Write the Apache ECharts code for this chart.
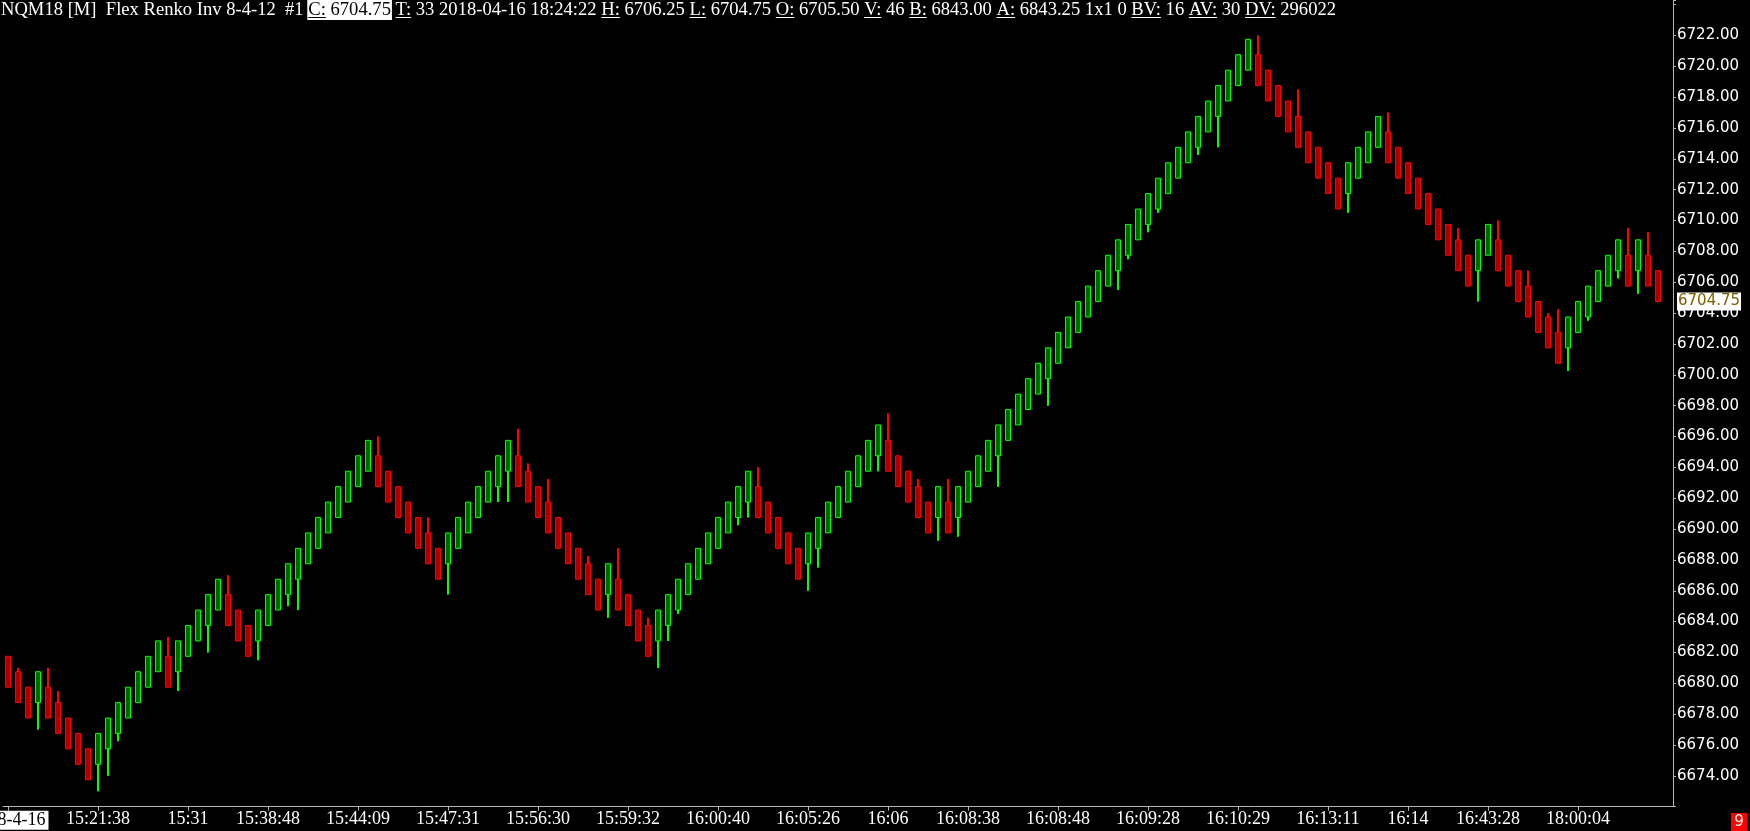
<!DOCTYPE html>
<html><head><meta charset="utf-8">
<script src="https://cdn.jsdelivr.net/npm/echarts@6/dist/echarts.min.js"></script>
<style>html,body{margin:0;padding:0;background:#000;}#c{width:1750px;height:831px;}</style>
</head><body><div id="c"></div>
<script>
// ---- data (Renko bricks) ----
const openP = [
6681.75,6680.75,6679.75,6678.75,6679.75,6678.75,6677.75,6676.75,6675.75,6674.75,
6675.75,6676.75,6677.75,6678.75,6679.75,6680.75,6681.75,6680.75,6681.75,6682.75,
6683.75,6684.75,6685.75,6684.75,6683.75,6682.75,6683.75,6684.75,6685.75,6686.75,
6687.75,6688.75,6689.75,6690.75,6691.75,6692.75,6693.75,6694.75,6693.75,6692.75,
6691.75,6690.75,6689.75,6688.75,6687.75,6688.75,6689.75,6690.75,6691.75,6692.75,
6693.75,6694.75,6693.75,6692.75,6691.75,6690.75,6689.75,6688.75,6687.75,6686.75,
6685.75,6686.75,6685.75,6684.75,6683.75,6682.75,6683.75,6684.75,6685.75,6686.75,
6687.75,6688.75,6689.75,6690.75,6691.75,6692.75,6691.75,6690.75,6689.75,6688.75,
6687.75,6688.75,6689.75,6690.75,6691.75,6692.75,6693.75,6694.75,6695.75,6694.75,
6693.75,6692.75,6691.75,6690.75,6691.75,6690.75,6691.75,6692.75,6693.75,6694.75,
6695.75,6696.75,6697.75,6698.75,6699.75,6700.75,6701.75,6702.75,6703.75,6704.75,
6705.75,6706.75,6707.75,6708.75,6709.75,6710.75,6711.75,6712.75,6713.75,6714.75,
6715.75,6716.75,6717.75,6718.75,6719.75,6720.75,6719.75,6718.75,6717.75,6716.75,
6715.75,6714.75,6713.75,6712.75,6711.75,6712.75,6713.75,6714.75,6715.75,6714.75,
6713.75,6712.75,6711.75,6710.75,6709.75,6708.75,6707.75,6706.75,6707.75,6708.75,
6707.75,6706.75,6705.75,6704.75,6703.75,6702.75,6701.75,6702.75,6703.75,6704.75,
6705.75,6706.75,6707.75,6706.75,6707.75,6706.75
];
const closeP = [
6679.75,6678.75,6677.75,6680.75,6677.75,6676.75,6675.75,6674.75,6673.75,6676.75,
6677.75,6678.75,6679.75,6680.75,6681.75,6682.75,6679.75,6682.75,6683.75,6684.75,
6685.75,6686.75,6683.75,6682.75,6681.75,6684.75,6685.75,6686.75,6687.75,6688.75,
6689.75,6690.75,6691.75,6692.75,6693.75,6694.75,6695.75,6692.75,6691.75,6690.75,
6689.75,6688.75,6687.75,6686.75,6689.75,6690.75,6691.75,6692.75,6693.75,6694.75,
6695.75,6692.75,6691.75,6690.75,6689.75,6688.75,6687.75,6686.75,6685.75,6684.75,
6687.75,6684.75,6683.75,6682.75,6681.75,6684.75,6685.75,6686.75,6687.75,6688.75,
6689.75,6690.75,6691.75,6692.75,6693.75,6690.75,6689.75,6688.75,6687.75,6686.75,
6689.75,6690.75,6691.75,6692.75,6693.75,6694.75,6695.75,6696.75,6693.75,6692.75,
6691.75,6690.75,6689.75,6692.75,6689.75,6692.75,6693.75,6694.75,6695.75,6696.75,
6697.75,6698.75,6699.75,6700.75,6701.75,6702.75,6703.75,6704.75,6705.75,6706.75,
6707.75,6708.75,6709.75,6710.75,6711.75,6712.75,6713.75,6714.75,6715.75,6716.75,
6717.75,6718.75,6719.75,6720.75,6721.75,6718.75,6717.75,6716.75,6715.75,6714.75,
6713.75,6712.75,6711.75,6710.75,6713.75,6714.75,6715.75,6716.75,6713.75,6712.75,
6711.75,6710.75,6709.75,6708.75,6707.75,6706.75,6705.75,6708.75,6709.75,6706.75,
6705.75,6704.75,6703.75,6702.75,6701.75,6700.75,6703.75,6704.75,6705.75,6706.75,
6707.75,6708.75,6705.75,6708.75,6705.75,6704.75
];
// wicks beyond the brick body: [bar index, price]
const upperWicks = [[1,6681],[4,6681],[5,6679.5],[16,6683],[22,6687],[37,6696],[42,6690.75],[51,6696.5],[52,6694.25],[54,6693.25],[58,6688.25],[61,6688.75],[64,6684.25],[75,6694],[88,6697.5],[91,6693.25],[94,6693.25],[125,6722],[129,6718.5],[138,6717],[145,6709.5],[149,6710],[152,6706.75],[154,6704],[155,6704.25],[162,6709.5],[164,6709.25]];
const lowerWicks = [[3,6677],[9,6673],[10,6674],[11,6676.25],[17,6679.5],[20,6682],[25,6681.5],[28,6685],[29,6684.75],[44,6685.75],[49,6691.75],[50,6691.75],[60,6684.25],[65,6681],[66,6682.75],[67,6684.5],[73,6690.25],[74,6690.75],[80,6686],[81,6687.5],[87,6693.75],[93,6689.25],[95,6689.5],[99,6692.75],[104,6698],[111,6705.5],[112,6707.5],[114,6709.25],[115,6710.5],[119,6714.25],[121,6714.75],[134,6710.5],[147,6704.75],[156,6700.25],[158,6703.5],[161,6706.25],[163,6705.25]];
const xLabelIndex = [0,9,18,26,35,44,53,62,71,80,88,96,105,114,123,132,140,148,157];
const xLabelText = ['2018-4-16','15:21:38','15:31','15:38:48','15:44:09','15:47:31','15:56:30','15:59:32','16:00:40','16:05:26','16:06','16:08:38','16:08:48','16:09:28','16:10:29','16:13:11','16:14','16:43:28','18:00:04'];
const yMin = 6672, yMax = 6724.3, yStep = 2, yLabelLo = 6674, yLabelHi = 6722;
const headerPrefix = 'NQM18 [M]  Flex Renko Inv 8-4-12  #1 ';
const headerKeys = ['C:','T:','H:','L:','O:','V:','B:','A:','BV:','AV:','DV:'];
const headerVals = [' 6704.75',' 33 2018-04-16 18:24:22',' 6706.25',' 6704.75',' 6705.50',' 46',' 6843.00',' 6843.25 1x1 0',' 16',' 30',' 296022'];
const barCountText = '9';

// ---- build ----
const n = openP.length;
const highP = openP.map((o,i)=>Math.max(o, closeP[i]));
const lowP = openP.map((o,i)=>Math.min(o, closeP[i]));
upperWicks.forEach(([i,v])=>{highP[i]=v;});
lowerWicks.forEach(([i,v])=>{lowP[i]=v;});
const candles = openP.map((o,i)=>[o, closeP[i], lowP[i], highP[i]]);
const wickData = candles.map((d,i)=>[i, d[0], d[1], d[2], d[3]]);
const categories = [];
for (let i=0;i<=n;i++) categories.push(String(i));
const labelMap = {};
xLabelIndex.forEach((k,j)=>{labelMap[k]=xLabelText[j];});
const lastClose = closeP[n-1];

const UP_LINE = '#00ff00', DOWN_LINE = '#ff0000', UP_FILL = '#006800', DOWN_FILL = '#a80000';
const SERIF = '"Liberation Serif", "Times New Roman", serif';
const headerFont = '18.6px ' + SERIF;
const mctx = document.createElement('canvas').getContext('2d');
mctx.font = headerFont;
const tw = s => mctx.measureText(s).width;
const graphics = [];
let hx = 1;
const hy = 10;
function addText(t, x, color) {
  graphics.push({type:'text', x:x, y:hy, z:10, style:{text:t, font:headerFont, fill:color, textAlign:'left', textVerticalAlign:'middle', align:'left', verticalAlign:'middle'}});
}
addText(headerPrefix, hx, '#ffffff');
hx += tw(headerPrefix);
headerKeys.forEach((k,i)=>{
  const v = headerVals[i];
  const col = i===0 ? '#000000' : '#ffffff';
  if (i===0) {
    graphics.push({type:'rect', z:9, shape:{x:hx-1, y:0, width:tw(k+v)+2, height:20}, style:{fill:'#ffffff'}});
  }
  addText(k, hx, col);
  graphics.push({type:'rect', z:10, shape:{x:hx, y:17, width:tw(k), height:1}, style:{fill:col}});
  hx += tw(k);
  addText(v, hx, col);
  hx += tw(v) + tw(' ');
});
graphics.push({type:'rect', z:10, shape:{x:1731, y:813, width:16, height:18}, style:{fill:'#ff0000'}});
graphics.push({type:'text', z:11, x:1739, y:822, style:{text:barCountText, font:'15px "DejaVu Sans"', fill:'#ffffff', textAlign:'center', textVerticalAlign:'middle', align:'center', verticalAlign:'middle'}});

const axisGrey = '#b4b4b4';
const chart = echarts.init(document.getElementById('c'), null, {renderer:'canvas'});
chart.setOption({
  backgroundColor:'#000000',
  animation:false,
  grid:{left:3, right:77, top:0, bottom:24.3, containLabel:false, outerBoundsMode:'none'},
  xAxis:{
    type:'category', data:categories, boundaryGap:true,
    axisLine:{show:true, lineStyle:{color:axisGrey, width:1}},
    axisTick:{show:true, alignWithLabel:true, length:4, interval:(idx)=>labelMap[idx]!==undefined, lineStyle:{color:axisGrey}},
    axisLabel:{
      interval:0, color:'#ffffff', fontFamily:SERIF, fontSize:18, margin:4,
      formatter:(v,idx)=>{const t=labelMap[idx]; if(t===undefined) return ''; return idx===0 ? '{d|'+t+'}' : t;},
      rich:{d:{backgroundColor:'#ffffff', color:'#000000', fontFamily:SERIF, fontSize:18, padding:[1,3,0,3]}}
    },
    splitLine:{show:false}
  },
  yAxis:{
    type:'value', position:'right', min:yMin, max:yMax, interval:yStep,
    axisLine:{show:true, lineStyle:{color:axisGrey, width:1}},
    axisTick:{show:true, length:3, lineStyle:{color:axisGrey}},
    axisLabel:{color:'#ffffff', fontFamily:'"DejaVu Sans"', fontSize:15, margin:4,
      formatter:v=> (v<yLabelLo-0.01 || v>yLabelHi+0.01) ? '' : v.toFixed(2)},
    splitLine:{show:false}
  },
  series:[{
    type:'custom', z:1, silent:true, data:wickData,
    encode:{x:0, y:[3,4]},
    renderItem:(params, api)=>{
      const i = api.value(0), o = api.value(1), c = api.value(2);
      const top = api.coord([i, api.value(4)]);
      const bot = api.coord([i, api.value(3)]);
      return {type:'line', shape:{x1:Math.round(top[0]), y1:top[1], x2:Math.round(bot[0]), y2:bot[1]},
        style:{stroke: c>o ? UP_LINE : DOWN_LINE, lineWidth:2}};
    }
  },{
    type:'candlestick', z:2, data:candles, barWidth:5,
    itemStyle:{color:UP_FILL, color0:DOWN_FILL, borderColor:UP_LINE, borderColor0:DOWN_LINE, borderWidth:1},
    markLine:{
      silent:true, symbol:'none', animation:false,
      lineStyle:{color:'rgba(0,0,0,0)', width:0},
      data:[{yAxis:lastClose}],
      label:{show:true, position:'end', distance:4, formatter:()=>lastClose.toFixed(2),
        backgroundColor:'#ffffff', color:'#806000', fontFamily:'"DejaVu Sans"', fontSize:15, padding:[2,1,1,1]}
    }
  }],
  graphic:graphics
});
</script></body></html>
